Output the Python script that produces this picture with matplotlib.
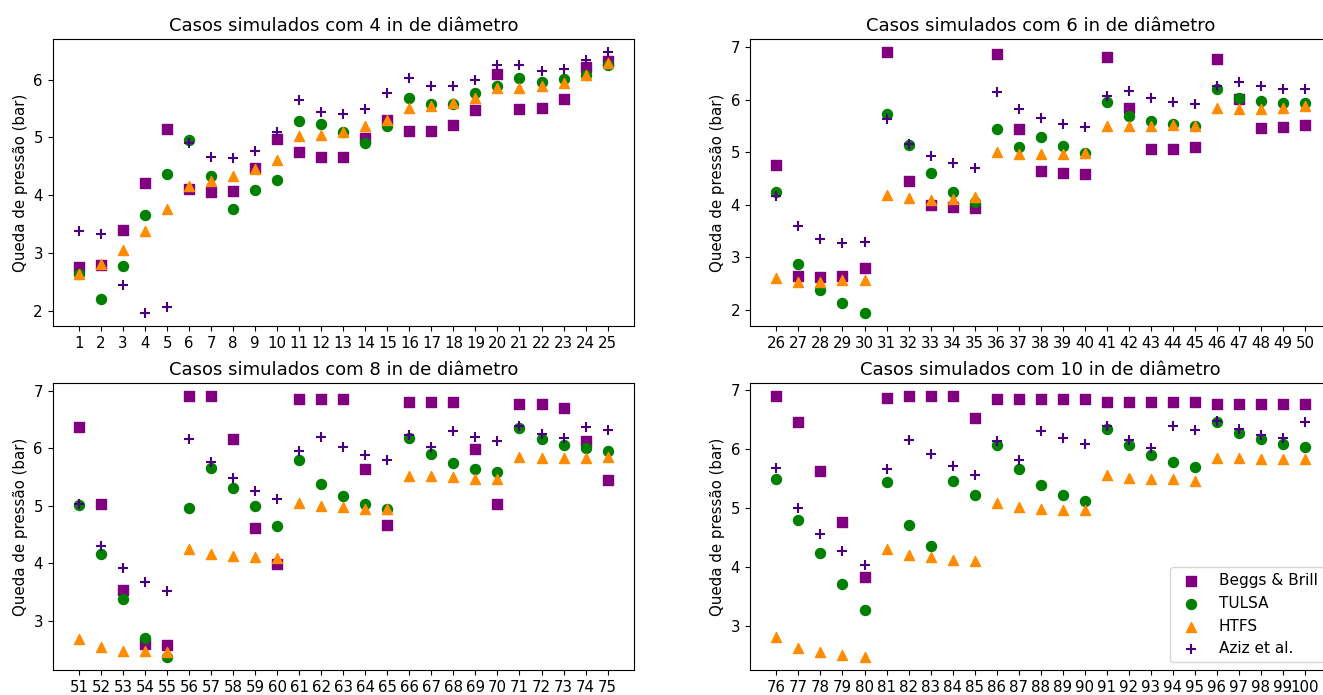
import matplotlib
matplotlib.use("Agg")
import matplotlib.pyplot as plt

# ---- data ----
cases_4 = list(range(1, 26))
cases_6 = list(range(26, 51))
cases_8 = list(range(51, 76))
cases_10 = list(range(76, 101))

beggs_4 = [2.76, 2.79, 3.40, 4.22, 5.15, 4.11, 4.06, 4.08, 4.47, 4.98, 4.75, 4.67, 4.67,
           4.99, 5.31, 5.11, 5.11, 5.22, 5.48, 6.10, 5.50, 5.51, 5.67, 6.21, 6.32]
tulsa_4 = [2.64, 2.21, 2.78, 3.66, 4.37, 4.95, 4.33, 3.77, 4.09, 4.26, 5.28, 5.23, 5.09,
           4.90, 5.20, 5.68, 5.57, 5.57, 5.77, 5.89, 6.02, 5.96, 6.01, 6.08, 6.25]
htfs_4 = [2.64, 2.81, 3.05, 3.39, 3.76, 4.17, 4.25, 4.34, 4.46, 4.61, 5.02, 5.05, 5.10,
          5.19, 5.30, 5.51, 5.55, 5.59, 5.68, 5.85, 5.85, 5.89, 5.94, 6.07, 6.29]
aziz_4 = [3.39, 3.33, 2.46, 1.97, 2.07, 4.90, 4.67, 4.64, 4.77, 5.10, 5.64, 5.44, 5.41,
          5.50, 5.76, 6.02, 5.89, 5.89, 6.00, 6.25, 6.25, 6.15, 6.19, 6.34, 6.47]

beggs_6 = [4.76, 2.65, 2.62, 2.65, 2.79, 6.90, 4.46, 4.00, 3.95, 3.94, 6.87, 5.45, 4.65,
           4.61, 4.59, 6.82, 5.84, 5.06, 5.06, 5.09, 6.77, 6.01, 5.46, 5.48, 5.51]
tulsa_6 = [4.25, 2.88, 2.38, 2.13, 1.94, 5.72, 5.14, 4.60, 4.24, 4.06, 5.45, 5.10, 5.29,
           5.12, 4.98, 5.95, 5.69, 5.59, 5.54, 5.50, 6.20, 6.03, 5.97, 5.93, 5.93]
htfs_6 = [2.60, 2.53, 2.53, 2.56, 2.57, 4.19, 4.13, 4.09, 4.11, 4.14, 5.01, 4.97, 4.96,
          4.96, 4.98, 5.50, 5.49, 5.49, 5.51, 5.50, 5.85, 5.83, 5.83, 5.85, 5.87]
aziz_6 = [4.16, 3.59, 3.35, 3.27, 3.29, 5.63, 5.16, 4.92, 4.79, 4.70, 6.14, 5.83, 5.65,
          5.54, 5.48, 6.06, 6.16, 6.04, 5.96, 5.92, 6.26, 6.33, 6.25, 6.21, 6.20]

beggs_8 = [6.36, 5.03, 3.54, 2.59, 2.57, 6.90, 6.90, 6.16, 4.61, 3.98, 6.85, 6.85, 6.85,
           5.63, 4.66, 6.81, 6.81, 6.81, 5.99, 5.03, 6.77, 6.77, 6.69, 6.13, 5.45]
tulsa_8 = [5.01, 4.16, 3.38, 2.70, 2.37, 4.96, 5.66, 5.31, 5.00, 4.64, 5.80, 5.37, 5.16,
           5.03, 4.95, 6.17, 5.89, 5.74, 5.64, 5.58, 6.35, 6.15, 6.06, 6.00, 5.95]
htfs_8 = [2.69, 2.54, 2.48, 2.47, 2.46, 4.25, 4.16, 4.12, 4.11, 4.09, 5.04, 5.00, 4.97,
          4.95, 4.95, 5.52, 5.51, 5.49, 5.47, 5.47, 5.84, 5.82, 5.82, 5.82, 5.85]
aziz_8 = [5.03, 4.30, 3.91, 3.67, 3.51, 6.16, 5.76, 5.48, 5.26, 5.12, 5.95, 6.20, 6.02,
          5.88, 5.80, 6.23, 6.02, 6.29, 6.20, 6.13, 6.39, 6.24, 6.18, 6.36, 6.32]

beggs_10 = [6.90, 6.46, 5.63, 4.77, 3.84, 6.88, 6.90, 6.90, 6.90, 6.54, 6.85, 6.85, 6.85,
            6.85, 6.85, 6.81, 6.81, 6.81, 6.81, 6.81, 6.77, 6.77, 6.77, 6.77, 6.77]
tulsa_10 = [5.49, 4.81, 4.24, 3.72, 3.27, 5.44, 4.72, 4.36, 5.47, 5.22, 6.08, 5.66, 5.40,
            5.23, 5.13, 6.34, 6.08, 5.90, 5.78, 5.71, 6.46, 6.28, 6.18, 6.10, 6.04]
htfs_10 = [2.82, 2.64, 2.56, 2.52, 2.48, 4.31, 4.21, 4.17, 4.13, 4.11, 5.09, 5.02, 4.99,
           4.97, 4.97, 5.56, 5.51, 5.50, 5.50, 5.47, 5.85, 5.85, 5.84, 5.84, 5.84]
aziz_10 = [5.68, 5.01, 4.57, 4.27, 4.04, 5.67, 6.16, 5.93, 5.72, 5.57, 6.15, 5.82, 6.31,
           6.19, 6.10, 6.39, 6.16, 6.02, 6.39, 6.33, 6.49, 6.34, 6.25, 6.19, 6.46]

titles = ["Casos simulados com 4 in de diâmetro", "Casos simulados com 6 in de diâmetro",
          "Casos simulados com 8 in de diâmetro", "Casos simulados com 10 in de diâmetro"]
labels = ["Beggs & Brill", "TULSA", "HTFS", "Aziz et al."]

panels = [
    (cases_4, beggs_4, tulsa_4, htfs_4, aziz_4),
    (cases_6, beggs_6, tulsa_6, htfs_6, aziz_6),
    (cases_8, beggs_8, tulsa_8, htfs_8, aziz_8),
    (cases_10, beggs_10, tulsa_10, htfs_10, aziz_10),
]

plt.rcParams["font.size"] = 10.8

W, H = 1323, 695
fig = plt.figure(figsize=(W / 100, H / 100), dpi=100)

# axes boxes in pixels: (left, top)
ax_w, ax_h = 581.4, 286.7
boxes = [(52.6, 39.3), (750.0, 39.3), (52.6, 383.3), (750.0, 383.3)]

for i, (box, data) in enumerate(zip(boxes, panels)):
    l, t = box
    ax = fig.add_axes([l / W, (H - t - ax_h) / H, ax_w / W, ax_h / H])
    x, b, tu, ht, az = data
    ax.scatter(x, b, marker="s", color="purple", s=52, label=labels[0])
    ax.scatter(x, tu, marker="o", color="green", s=52, label=labels[1])
    ax.scatter(x, ht, marker="^", color="darkorange", s=52, label=labels[2])
    ax.scatter(x, az, marker="+", color="indigo", s=50, label=labels[3])
    ax.set_xticks(x)
    ax.set_xticklabels([str(v) for v in x])
    ax.tick_params(labelsize=10.8)
    ax.set_title(titles[i], fontsize=13)
    ax.set_ylabel("Queda de pressão (bar)", fontsize=10.8)
    if i == 3:
        ax.legend(loc="lower right", fontsize=11)

fig.savefig("out.png", dpi=100)
